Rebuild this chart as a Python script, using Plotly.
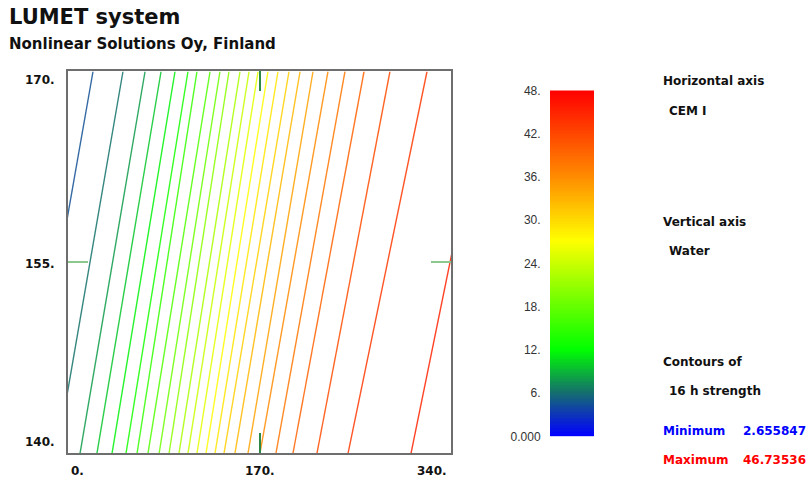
import plotly.graph_objects as go
from plotly.colors import sample_colorscale

# ---------------- data ----------------
title_text = "LUMET system"
subtitle_text = "Nonlinear Solutions Oy, Finland"

# contour levels (evenly spaced between minimum and maximum)
contour_levels = [4.419, 6.182, 7.945, 9.708, 11.471, 13.234, 14.997, 16.760,
                  18.524, 20.287, 22.050, 23.813, 25.576, 27.339, 29.102, 30.865,
                  32.628, 34.391, 36.154, 37.917, 39.680, 41.443, 43.207, 44.970]
# x (CEM I) where each contour line meets Water = 170 (top) and Water = 140 (bottom)
x_at_water_170 = [22.2, 48.8, 68.4, 82.6, 95.0, 106.5, 114.5, 126.1, 134.9, 142.9,
                  152.7, 160.7, 168.7, 177.5, 186.4, 196.2, 206.0, 217.5, 230.8,
                  245.9, 262.8, 285.8, 318.7, 373.7]
x_at_water_140 = [-37.3, -9.8, 10.7, 25.7, 39.1, 51.5, 61.3, 71.0, 80.9, 89.7,
                  98.5, 106.5, 114.5, 122.5, 130.5, 138.5, 148.2, 159.8, 170.4,
                  184.6, 199.7, 221.0, 248.6, 304.5]
water_top, water_bottom = 170, 140

x_tick_vals = [0, 170, 340]
x_tick_text = ["0.", "170.", "340."]
y_tick_vals = [170, 155, 140]
y_tick_text = ["170.", "155.", "140."]

cbar_tick_vals = [48, 42, 36, 30, 24, 18, 12, 6, 0]
cbar_tick_text = ["48.", "42.", "36.", "30.", "24.", "18.", "12.", "6.", "0.000"]
cbar_min, cbar_max = 0, 48

side_labels = ["Horizontal axis", "CEM I", "Vertical axis", "Water",
               "Contours of", "16 h strength"]
min_label, min_value = "Minimum", "2.655847"
max_label, max_value = "Maximum", "46.73536"

# ---------------- styling ----------------
W, H = 810, 482
colorscale = [[0.0, "rgb(0,0,255)"], [0.07, "rgb(15,60,175)"],
              [0.13, "rgb(20,115,105)"], [0.25, "rgb(0,255,0)"],
              [0.40, "rgb(120,255,0)"], [0.565, "rgb(255,255,0)"],
              [0.75, "rgb(255,140,0)"], [1.0, "rgb(255,0,0)"]]


def px(xp):
    return xp / W


def py(yp):
    # vertical pixel position -> paper fraction (small correction for page scaling)
    y_adj = (yp - 6.3) / 0.974
    return 1 - y_adj / H


fig = go.Figure()

line_colors = sample_colorscale(
    colorscale, [(lv - cbar_min) / (cbar_max - cbar_min) for lv in contour_levels])
for lv, xt, xb, c in zip(contour_levels, x_at_water_170, x_at_water_140, line_colors):
    fig.add_trace(go.Scatter(x=[xt, xb], y=[water_top, water_bottom], mode="lines",
                             line=dict(color=c, width=1.4), opacity=0.85,
                             name=f"{lv:.2f}", showlegend=False, hoverinfo="skip"))

# colour bar drawn as a heatmap on its own axes
n_steps = 241
grad_y = [cbar_min + (cbar_max - cbar_min) * i / (n_steps - 1) for i in range(n_steps)]
fig.add_trace(go.Heatmap(x=[0], y=grad_y, z=[[v] for v in grad_y], colorscale=colorscale,
                         zmin=cbar_min, zmax=cbar_max, showscale=False,
                         xaxis="x2", yaxis="y2", hoverinfo="skip"))

frame = "#6e6e6e"
tick_green = "rgb(45,135,70)"
fig.update_layout(
    width=W, height=H, margin=dict(l=0, r=0, t=0, b=0),
    paper_bgcolor="white", plot_bgcolor="white",
    font=dict(family="DejaVu Sans", color="#111"),
    xaxis=dict(domain=[px(68), px(451)], range=[0, 340], showgrid=False, zeroline=False,
               showline=True, linecolor=frame, linewidth=2, mirror="ticks",
               tickvals=[170], ticks="inside", ticklen=20, tickwidth=2,
               tickcolor=tick_green, showticklabels=False),
    yaxis=dict(domain=[py(454), py(71)], range=[140, 170], showgrid=False, zeroline=False,
               showline=True, linecolor=frame, linewidth=2, mirror="ticks",
               tickvals=[155], ticks="inside", ticklen=20, tickwidth=2,
               tickcolor="rgb(140,200,140)", showticklabels=False),
    xaxis2=dict(domain=[px(550), px(594)], range=[-0.5, 0.5], visible=False,
                anchor="y2"),
    yaxis2=dict(domain=[py(437), py(90)], range=[cbar_min, cbar_max], anchor="x2",
                showgrid=False, zeroline=False, showline=False,
                tickvals=cbar_tick_vals, ticktext=cbar_tick_text,
                ticks="outside", ticklen=6, tickcolor="rgba(0,0,0,0)",
                tickfont=dict(family="Liberation Sans", size=12, color="#333")),
)

ann = []
ann.append(dict(text=f"<b>{title_text}</b>", x=px(7), y=py(16), xref="paper", yref="paper",
                xanchor="left", yanchor="middle", showarrow=False,
                font=dict(size=21, color="#111")))
ann.append(dict(text=f"<b>{subtitle_text}</b>", x=px(7), y=py(43), xref="paper",
                yref="paper", xanchor="left", yanchor="middle", showarrow=False,
                font=dict(size=15, color="#111")))

# axis tick labels
x_anchor = ["left", "center", "right"]
x_shift = [1, 0, -2]
for v, t, a, s in zip(x_tick_vals, x_tick_text, x_anchor, x_shift):
    ann.append(dict(text=f"<b>{t}</b>", x=v, y=py(472), xref="x", yref="paper",
                    xanchor=a, yanchor="middle", xshift=s, showarrow=False,
                    font=dict(size=12, color="#111")))
y_anchor = ["top", "middle", "bottom"]
y_shift = [0, -2, 2]
for v, t, a, s in zip(y_tick_vals, y_tick_text, y_anchor, y_shift):
    ann.append(dict(text=f"<b>{t}</b>", x=px(57), y=v, xref="paper", yref="y",
                    xanchor="right", yanchor=a, yshift=s, showarrow=False,
                    font=dict(size=12, color="#111")))

# right-hand information texts
side_pos = [(661, 81), (667, 111), (661, 222), (667, 251), (661, 362), (667, 392)]
for t, (xx, yy) in zip(side_labels, side_pos):
    ann.append(dict(text=f"<b>{t}</b>", x=px(xx), y=py(yy), xref="paper", yref="paper",
                    xanchor="left", yanchor="middle", showarrow=False,
                    font=dict(size=12, color="#111")))
for lab, val, col, yy in [(min_label, min_value, "rgb(0,0,255)", 432),
                          (max_label, max_value, "rgb(255,0,0)", 461)]:
    ann.append(dict(text=f"<b>{lab}</b>", x=px(661), y=py(yy), xref="paper",
                    yref="paper", xanchor="left", yanchor="middle", showarrow=False,
                    font=dict(size=12, color=col)))
    ann.append(dict(text=f"<b>{val}</b>", x=px(741), y=py(yy), xref="paper",
                    yref="paper", xanchor="left", yanchor="middle", showarrow=False,
                    font=dict(size=12, color=col)))

fig.update_layout(annotations=ann)
fig.write_html("out.html")
